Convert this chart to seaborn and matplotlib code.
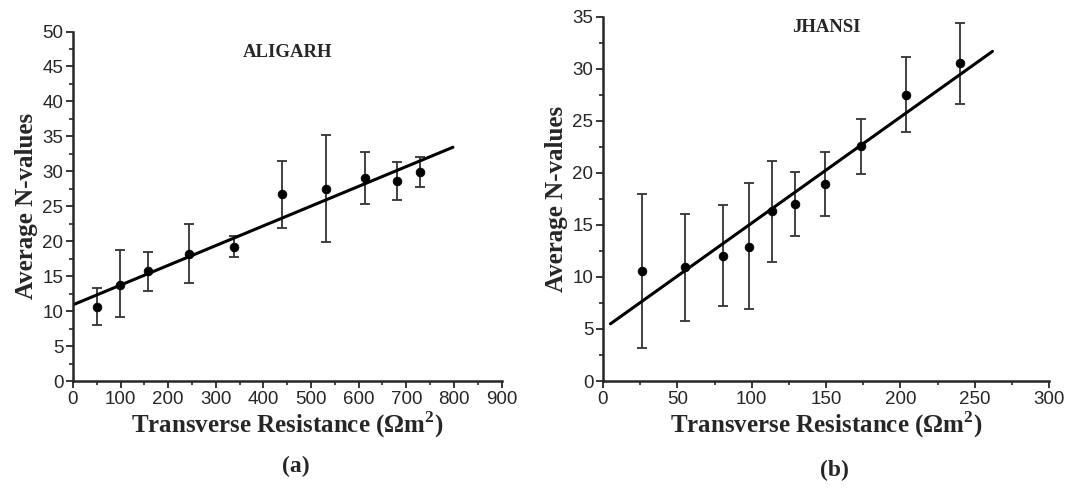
import numpy as np
import pandas as pd
import matplotlib.pyplot as plt
import seaborn as sns
from matplotlib.ticker import MultipleLocator

# Aligarh
aligarh_tr = [50, 98, 158, 244, 338, 440, 532, 613, 681, 728]
aligarh_n = [10.6, 13.8, 15.7, 18.2, 19.2, 26.7, 27.5, 29.0, 28.6, 29.9]
aligarh_err_up = [13.3, 18.7, 18.4, 22.4, 20.8, 31.5, 35.2, 32.7, 31.4, 32.0]
aligarh_err_low = [8.0, 9.1, 12.9, 14.0, 17.8, 21.9, 19.9, 25.3, 25.9, 27.7]
aligarh_fit = (10.9, 0.02825, 0, 798)  # intercept, slope, x start, x end

# Jhansi
jhansi_tr = [26.5, 55, 80.7, 98.2, 113.7, 129.4, 149.3, 173.8, 203.6, 240]
jhansi_n = [10.6, 10.9, 12.0, 12.9, 16.3, 17.0, 18.9, 22.6, 27.5, 30.5]
jhansi_err_up = [18.0, 16.0, 16.9, 19.0, 21.1, 20.1, 22.0, 25.2, 31.1, 34.4]
jhansi_err_low = [3.2, 5.8, 7.2, 6.9, 11.4, 13.9, 15.8, 19.9, 23.9, 26.6]
jhansi_fit = (4.98, 0.1018, 5, 262)

sns.set_style('ticks')
plt.rcParams['font.family'] = ['Liberation Sans', 'DejaVu Sans']
plt.rcParams['mathtext.fontset'] = 'custom'
plt.rcParams['mathtext.rm'] = 'Liberation Serif:bold'
plt.rcParams['mathtext.bf'] = 'Liberation Serif:bold'

serif = ['Liberation Serif', 'DejaVu Serif']

fig = plt.figure(figsize=(10.74, 4.88), dpi=100)
ax1 = fig.add_axes([73 / 1074, 1 - 381 / 488, 428.5 / 1074, 349.5 / 488])
ax2 = fig.add_axes([603 / 1074, 1 - 381 / 488, 446 / 1074, 364.5 / 488])


def draw_panel(ax, tr, n, up, low, fit, name, xlim, ylim, xmaj, ymaj, title_y, letter):
    df = pd.DataFrame({'tr': tr, 'n': n})
    yerr = [np.array(n) - np.array(low), np.array(up) - np.array(n)]
    ax.errorbar(df['tr'], df['n'], yerr=yerr, fmt='none', ecolor='#333333',
                elinewidth=1.3, capsize=3.5, capthick=1.3)
    sns.scatterplot(data=df, x='tr', y='n', ax=ax, color='black', s=40,
                    edgecolor='black', zorder=3)
    b, m, x0, x1 = fit
    xs = np.array([x0, x1])
    ax.plot(xs, b + m * xs, color='black', lw=2.2)

    ax.set_xlim(*xlim)
    ax.set_ylim(*ylim)
    ax.xaxis.set_major_locator(MultipleLocator(xmaj))
    ax.xaxis.set_minor_locator(MultipleLocator(xmaj / 2))
    ax.yaxis.set_major_locator(MultipleLocator(ymaj))
    ax.yaxis.set_minor_locator(MultipleLocator(ymaj / 2))
    ax.tick_params(which='major', length=5, width=1.3, labelsize=13.5, pad=2)
    ax.tick_params(which='minor', length=3, width=1.2)
    for s in ['top', 'right']:
        ax.spines[s].set_visible(False)
    for s in ['left', 'bottom']:
        ax.spines[s].set_linewidth(1.8)

    ax.set_xlabel('Transverse Resistance (\u03a9m$^{2}$)', family=serif,
                  fontweight='bold', fontsize=18, labelpad=1)
    ax.set_ylabel('Average N-values', family=serif, fontweight='bold',
                  fontsize=18, labelpad=3)
    ax.text(0.5, title_y, name, transform=ax.transAxes, ha='center', va='center',
            family=serif, fontweight='bold', fontsize=13.5)
    ax.text(0.52, -0.245, letter, transform=ax.transAxes, ha='center', va='center',
            family=serif, fontweight='bold', fontsize=17)


draw_panel(ax1, aligarh_tr, aligarh_n, aligarh_err_up, aligarh_err_low, aligarh_fit,
           'ALIGARH', (0, 900), (0, 50), 100, 5, 0.94, '(a)')
draw_panel(ax2, jhansi_tr, jhansi_n, jhansi_err_up, jhansi_err_low, jhansi_fit,
           'JHANSI', (0, 300), (0, 35), 50, 5, 0.97, '(b)')

plt.savefig('out.png', dpi=100)
